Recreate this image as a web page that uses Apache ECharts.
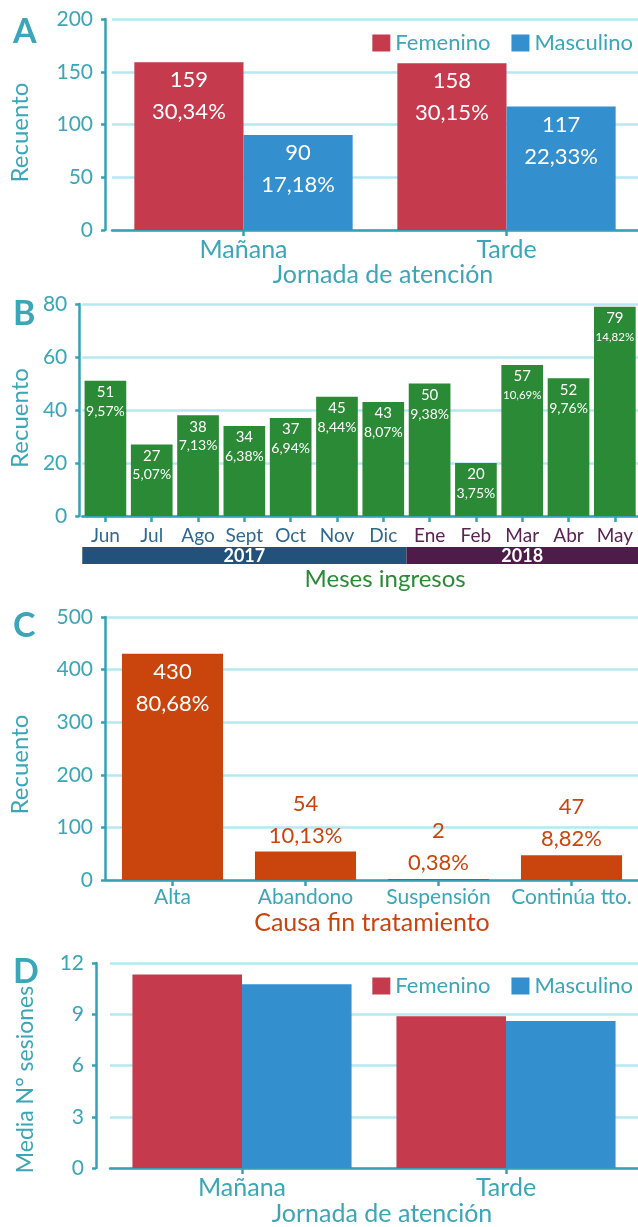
<!DOCTYPE html>
<html><head><meta charset="utf-8">
<script src="https://cdn.jsdelivr.net/npm/echarts@6/dist/echarts.min.js"></script>
<style>html,body{margin:0;padding:0;background:#fff}#c{width:638px;height:1227px}</style>
</head><body><div id="c"></div>
<script>
// ---- data ----
const shifts = ['Mañana', 'Tarde'];
const sexes = ['Femenino', 'Masculino'];
const countFem = [159, 158];
const countMasc = [90, 117];
const pctFem = [30.34, 30.15];
const pctMasc = [17.18, 22.33];

const months = ['Jun', 'Jul', 'Ago', 'Sept', 'Oct', 'Nov', 'Dic', 'Ene', 'Feb', 'Mar', 'Abr', 'May'];
const monthCounts = [51, 27, 38, 34, 37, 45, 43, 50, 20, 57, 52, 79];
const monthPcts = [9.57, 5.07, 7.13, 6.38, 6.94, 8.44, 8.07, 9.38, 3.75, 10.69, 9.76, 14.82];
const years = ['2017', '2018'];
const yearFirstMonth = [0, 7];
const yearLastMonth = [6, 11];

const causes = ['Alta', 'Abandono', 'Suspensión', 'Continúa tto.'];
const causeCounts = [430, 54, 2, 47];
const causePcts = [80.68, 10.13, 0.38, 8.82];

const sessionsFem = [11.32, 8.89];
const sessionsMasc = [10.75, 8.6];

// ---- styles ----
const FONT = 'Lato';
const TEAL = '#3aa6b8';
const AXIS = '#35a2b4';
const GRIDC = '#b5e8f2';
const RED = '#c53a4d';
const BLUE = '#348fce';
const GREEN = '#2a8a35';
const ORANGE = '#c9450d';
const Y2017 = '#22527b';
const Y2018 = '#4e1c48';

const fmtPct = v => v.toFixed(2).replace('.', ',') + '%';

function yAx(gi, max, interval, offset, name, nameGap, shift, nameSize) {
  return {
    gridIndex: gi, type: 'value', min: 0, max: max, interval: interval, offset: offset,
    name: name, nameLocation: 'middle', nameGap: nameGap,
    nameTextStyle: {color: TEAL, fontFamily: FONT, fontSize: nameSize || 24, padding: [0, shift, 0, 0]},
    axisLine: {show: true, lineStyle: {color: AXIS, width: 2.5}},
    axisTick: {show: true, length: 4, lineStyle: {color: AXIS, width: 2.5}},
    axisLabel: {color: TEAL, fontFamily: FONT, fontSize: 21, margin: 12},
    splitLine: {show: true, lineStyle: {color: GRIDC, width: 2.5}}
  };
}
function xAx(gi, data, name, nameColor, nameGap, labelSize, labelColor, nameShift, nameSize) {
  return {
    gridIndex: gi, type: 'category', data: data,
    name: name, nameLocation: 'middle', nameGap: nameGap,
    nameTextStyle: {color: nameColor, fontFamily: FONT, fontSize: nameSize || 25, padding: [0, 0, 0, nameShift || 0]},
    axisLine: {show: true, lineStyle: {color: AXIS, width: 2.5}},
    axisTick: {show: true, alignWithLabel: true, length: 6, lineStyle: {color: AXIS, width: 2.5}},
    axisLabel: {color: labelColor || TEAL, fontFamily: FONT, fontSize: labelSize, margin: 7, interval: 0}
  };
}
const innerLabel = (pcts) => ({
  show: true, position: 'insideTop', distance: 2, color: '#fff', fontFamily: FONT, fontSize: 22, lineHeight: 32,
  formatter: p => p.value + '\n' + fmtPct(pcts[p.dataIndex])
});

const option = {
  animation: false,
  backgroundColor: '#fff',
  title: ['A', 'B', 'C', 'D'].map((t, i) => ({
    text: t, left: 8, top: [10, 292, 604, 950][i],
    textStyle: {color: TEAL, fontFamily: FONT, fontWeight: 'bold', fontSize: 34}
  })),
  legend: [
    {data: sexes, right: 0, top: 27, itemWidth: 18, itemHeight: 17, itemGap: 21,
     textStyle: {color: TEAL, fontFamily: FONT, fontSize: 22}, icon: 'rect', selectedMode: false, seriesIndex: [0, 1]},
    {data: sexes, right: 0, top: 970, itemWidth: 18, itemHeight: 17, itemGap: 21,
     textStyle: {color: TEAL, fontFamily: FONT, fontSize: 22}, icon: 'rect', selectedMode: false}
  ],
  grid: [
    {left: 110, right: 0, top: 19, height: 211},
    {left: 78, right: 0, top: 304, height: 212},
    {left: 104, right: -4, top: 617, height: 263},
    {left: 110, right: 0, top: 963, height: 212}
  ],
  xAxis: [
    xAx(0, shifts, 'Jornada de atención', TEAL, 32, 25, TEAL, 16),
    Object.assign(xAx(1, months, 'Meses ingresos', GREEN, 51, 19, null, 50, 24), {
      axisLabel: {fontFamily: FONT, fontSize: 19, margin: 10, interval: 0,
        color: (v, i) => (i >= yearFirstMonth[1] ? '#5a2452' : '#2f6890')}
    }),
    xAx(2, causes, 'Causa fin tratamiento', ORANGE, 30, 21, TEAL, 0),
    xAx(3, shifts, 'Jornada de atención', TEAL, 29, 25, TEAL, 16)
  ],
  yAxis: [
    yAx(0, 200, 50, 7, 'Recuento', 73, 16),
    yAx(1, 80, 20, 3, 'Recuento', 45, 16),
    yAx(2, 500, 100, 1, 'Recuento', 73, 32),
    yAx(3, 12, 3, 14, 'Media N° sesiones', 59, 28, 23)
  ],
  series: [
    {name: sexes[0], type: 'bar', xAxisIndex: 0, yAxisIndex: 0, data: countFem, itemStyle: {color: RED},
     barGap: '0%', barCategoryGap: '17%', label: innerLabel(pctFem)},
    {name: sexes[1], type: 'bar', xAxisIndex: 0, yAxisIndex: 0, data: countMasc, itemStyle: {color: BLUE},
     barGap: '0%', barCategoryGap: '17%', label: innerLabel(pctMasc)},
    {type: 'bar', xAxisIndex: 1, yAxisIndex: 1, data: monthCounts, itemStyle: {color: GREEN},
     barCategoryGap: '10%',
     label: {show: true, position: 'insideTop', distance: 2, color: '#fff', fontFamily: FONT,
       formatter: p => {
         const s = fmtPct(monthPcts[p.dataIndex]);
         return '{n|' + p.value + '}\n' + (s.length > 5 ? '{s|' + s + '}' : '{p|' + s + '}');
       },
       rich: {
         n: {fontFamily: FONT, fontSize: 15, lineHeight: 19, color: '#fff'},
         p: {fontFamily: FONT, fontSize: 14, lineHeight: 19, color: '#fff'},
         s: {fontFamily: FONT, fontSize: 11.5, lineHeight: 19, color: '#fff'}
       }}},
    {type: 'custom', xAxisIndex: 1, yAxisIndex: 1, silent: true, clip: false,
     data: years.map((y, i) => [yearFirstMonth[i], yearLastMonth[i], y]),
     encode: {x: [0, 1]},
     renderItem: (params, api) => {
       const a = api.coord([api.value(0), 0]);
       const b = api.coord([api.value(1), 0]);
       const bw = api.size([1, 0])[0];
       const x0 = a[0] - bw / 2, x1 = b[0] + bw / 2;
       const y0 = a[1] + 31, h = 17;
       return {type: 'group', children: [
         {type: 'rect', shape: {x: x0, y: y0, width: x1 - x0, height: h},
          style: {fill: params.dataIndex === 0 ? Y2017 : Y2018}},
         {type: 'text', style: {text: api.value(2), x: (x0 + x1) / 2, y: y0 + h / 2 + 1,
           align: 'center', verticalAlign: 'middle', fill: '#fff', font: 'bold 18px Lato'}}
       ]};
     }},
    {type: 'bar', xAxisIndex: 2, yAxisIndex: 2, itemStyle: {color: ORANGE}, barCategoryGap: '24%',
     data: causeCounts.map((v, i) => ({
       value: v,
       label: v > 200
         ? {position: 'insideTop', distance: 2, color: '#fff'}
         : {position: 'top', distance: 0, color: ORANGE}
     })),
     label: {show: true, fontFamily: FONT, fontSize: 22, lineHeight: 32,
       formatter: p => p.value + '\n' + fmtPct(causePcts[p.dataIndex])}},
    {name: sexes[0], type: 'bar', xAxisIndex: 3, yAxisIndex: 3, data: sessionsFem, itemStyle: {color: RED},
     barGap: '0%', barCategoryGap: '17%'},
    {name: sexes[1], type: 'bar', xAxisIndex: 3, yAxisIndex: 3, data: sessionsMasc, itemStyle: {color: BLUE},
     barGap: '0%', barCategoryGap: '17%'}
  ]
};
const chart = echarts.init(document.getElementById('c'), null, {renderer: 'canvas'});
chart.setOption(option);
</script>
</body></html>
